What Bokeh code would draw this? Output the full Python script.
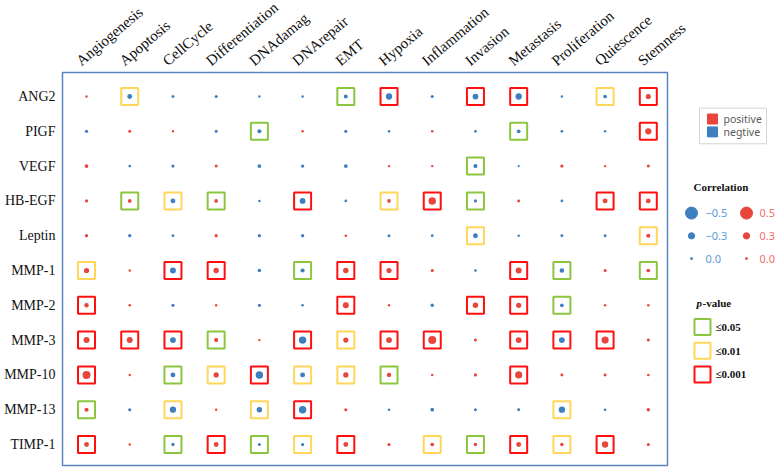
import numpy as np
from bokeh.plotting import figure
from bokeh.models import Range1d, FixedTicker, ColumnDataSource, LabelSet
from bokeh.layouts import row, column
from bokeh.embed import file_html
from bokeh.resources import INLINE
from bokeh.core.properties import value

# ---------------- data ----------------
functions = ["Angiogenesis", "Apoptosis", "CellCycle", "Differentiation", "DNAdamag",
             "DNArepair", "EMT", "Hypoxia", "Inflammation", "Invasion", "Metastasis",
             "Proliferation", "Quiescence", "Stemness"]
genes = ["ANG2", "PIGF", "VEGF", "HB-EGF", "Leptin", "MMP-1", "MMP-2", "MMP-3",
         "MMP-10", "MMP-13", "TIMP-1"]

# correlation (sign = direction, magnitude)
corr_ANG2   = [0.03, -0.20, -0.07, -0.07, -0.03, -0.03, -0.14, -0.30, -0.08, -0.26, -0.30, -0.03, -0.12, 0.22]
corr_PIGF   = [-0.09, 0.07, 0.03, -0.07, -0.14, 0.03, -0.08, -0.05, 0.03, -0.05, -0.12, -0.06, -0.03, 0.30]
corr_VEGF   = [0.12, -0.05, -0.09, 0.07, -0.12, -0.10, -0.12, 0.03, 0.03, -0.15, -0.02, 0.09, 0.03, 0.07]
corr_HBEGF  = [0.08, 0.12, -0.20, 0.12, -0.03, -0.27, -0.05, 0.12, 0.34, -0.08, 0.07, -0.05, 0.20, 0.20]
corr_Leptin = [0.09, -0.09, -0.05, 0.09, -0.09, -0.09, 0.04, -0.07, -0.05, -0.20, -0.03, -0.07, -0.06, 0.15]
corr_MMP1   = [0.22, 0.03, -0.27, 0.24, -0.10, -0.15, 0.24, 0.22, 0.08, -0.05, 0.28, -0.18, 0.08, 0.12]
corr_MMP2   = [0.17, 0.04, -0.08, 0.04, -0.08, -0.04, 0.28, 0.03, -0.10, 0.24, 0.22, -0.12, 0.03, 0.04]
corr_MMP3   = [0.28, 0.28, -0.27, 0.15, 0.03, -0.34, 0.22, 0.27, 0.36, 0.07, 0.27, -0.27, 0.33, 0.07]
corr_MMP10  = [0.36, 0.03, -0.20, 0.22, -0.34, -0.20, 0.23, 0.17, 0.03, 0.08, 0.33, 0.07, 0.07, 0.04]
corr_MMP13  = [0.15, -0.08, -0.30, 0.03, -0.24, -0.34, 0.08, -0.04, -0.12, -0.07, -0.07, -0.30, -0.04, 0.10]
corr_TIMP1  = [0.20, 0.03, -0.09, 0.20, -0.07, -0.09, 0.20, 0.08, 0.12, 0.10, 0.20, 0.10, 0.30, 0.07]

# p-value class: 0 = n.s., 1 = <=0.05, 2 = <=0.01, 3 = <=0.001
p_ANG2   = [0, 2, 0, 0, 0, 0, 1, 3, 0, 3, 3, 0, 2, 3]
p_PIGF   = [0, 0, 0, 0, 1, 0, 0, 0, 0, 0, 1, 0, 0, 3]
p_VEGF   = [0, 0, 0, 0, 0, 0, 0, 0, 0, 1, 0, 0, 0, 0]
p_HBEGF  = [0, 1, 2, 1, 0, 3, 0, 2, 3, 1, 0, 0, 3, 3]
p_Leptin = [0, 0, 0, 0, 0, 0, 0, 0, 0, 2, 0, 0, 0, 2]
p_MMP1   = [2, 0, 3, 3, 0, 1, 3, 3, 0, 0, 3, 1, 0, 1]
p_MMP2   = [3, 0, 0, 0, 0, 0, 3, 0, 0, 3, 3, 1, 0, 0]
p_MMP3   = [3, 3, 3, 1, 0, 3, 2, 3, 3, 0, 3, 3, 3, 0]
p_MMP10  = [3, 0, 1, 2, 3, 2, 2, 1, 0, 0, 3, 0, 0, 0]
p_MMP13  = [1, 0, 2, 0, 2, 3, 0, 0, 0, 0, 0, 2, 0, 0]
p_TIMP1  = [3, 0, 1, 3, 1, 2, 3, 0, 2, 1, 3, 2, 3, 0]

corr_rows = [corr_ANG2, corr_PIGF, corr_VEGF, corr_HBEGF, corr_Leptin, corr_MMP1,
             corr_MMP2, corr_MMP3, corr_MMP10, corr_MMP13, corr_TIMP1]
p_rows = [p_ANG2, p_PIGF, p_VEGF, p_HBEGF, p_Leptin, p_MMP1, p_MMP2, p_MMP3,
          p_MMP10, p_MMP13, p_TIMP1]

sign_labels = ["positive", "negtive"]
legend_corr_neg = [-0.5, -0.3, 0.0]
legend_corr_pos = [0.5, 0.3, 0.0]
p_labels = ["\u22640.05", "\u22640.01", "\u22640.001"]

# ---------------- styles ----------------
POS = "#e8453c"
NEG = "#3e7fc0"
POS_TXT = "#f07068"
NEG_TXT = "#5d9bd6"
BOX = {1: "#8cc63e", 2: "#ffd65a", 3: "#ff1010"}
FRAME = "#5b86bd"
SERIF = "Liberation Serif"
SANS = "Noto Sans"

W, H = 777, 467
TOP_H = 70           # strip holding the rotated column labels
MAIN_W = 669         # main plot (frame 62..667)
LEFT = 62
X0, X1 = -0.556, 13.444
PX_PER_UNIT = (667 - LEFT) / (X1 - X0)


def dot_size(r):
    return float(np.interp(abs(r), [0.0, 0.3, 0.5], [2.0, 6.3, 12.0]))


n_rows = len(genes)
xs, ys, sz, col = [], [], [], []
bx, by, bc = [], [], []
for i, g in enumerate(genes):
    for j, f in enumerate(functions):
        r = corr_rows[i][j]
        yv = n_rows - 1 - i
        xs.append(j); ys.append(yv); sz.append(dot_size(r))
        col.append(POS if r >= 0 else NEG)
        pc = p_rows[i][j]
        if pc > 0:
            bx.append(j); by.append(yv); bc.append(BOX[pc])

dots = ColumnDataSource(dict(x=xs, y=ys, size=sz, color=col))
boxes = ColumnDataSource(dict(x=bx, y=by, color=bc))

# ---------------- top strip: column labels ----------------
t = figure(width=W, height=TOP_H,
           x_range=Range1d(X0, X0 + (W - LEFT) / PX_PER_UNIT), y_range=Range1d(0, TOP_H),
           x_axis_location=None, y_axis_location=None, toolbar_location=None,
           output_backend="svg", min_border_left=LEFT, min_border_right=0,
           min_border_top=0, min_border_bottom=0)
t.grid.visible = False
t.outline_line_color = None
col_src = ColumnDataSource(dict(x=list(range(len(functions))),
                                y=[0] * len(functions), text=functions))
t.add_layout(LabelSet(x="x", y="y", text="text", source=col_src, angle=0.7,
                      x_offset=-5, y_offset=4, text_align="left",
                      text_baseline="alphabetic", text_font=value(SERIF),
                      text_font_size="15px", text_color="#111111"))

# ---------------- main figure ----------------
p = figure(width=MAIN_W, height=H - TOP_H,
           x_range=Range1d(X0, X1), y_range=Range1d(-0.603, 10.69),
           x_axis_location=None, y_axis_location="left",
           toolbar_location=None, output_backend="svg",
           min_border_left=LEFT, min_border_right=2, min_border_top=2, min_border_bottom=2)
p.grid.visible = False
p.outline_line_color = FRAME
p.outline_line_width = 1.5
p.background_fill_color = "white"
p.border_fill_color = "white"

p.yaxis.ticker = FixedTicker(ticks=list(range(n_rows)))
p.yaxis.major_label_overrides = {n_rows - 1 - i: g for i, g in enumerate(genes)}
p.yaxis.axis_line_color = None
p.yaxis.major_tick_line_color = None
p.yaxis.minor_tick_line_color = None
p.yaxis.major_tick_out = 0
p.yaxis.major_tick_in = 0
p.yaxis.major_label_standoff = 7
p.yaxis.major_label_text_font = SERIF
p.yaxis.major_label_text_font_size = "14px"
p.yaxis.major_label_text_color = "#111111"

p.scatter("x", "y", source=boxes, marker="square", size=17, fill_color=None,
          line_color="color", line_width=2)
p.scatter("x", "y", source=dots, marker="circle", size="size", fill_color="color",
          line_color=None)

# ---------------- legend figure ----------------
LH = H - TOP_H
q = figure(width=W - MAIN_W, height=LH, x_range=Range1d(0, W - MAIN_W),
           y_range=Range1d(LH, 0),
           x_axis_location=None, y_axis_location=None, toolbar_location=None,
           output_backend="svg", min_border=0)
q.grid.visible = False
q.outline_line_color = None

# sign legend
q.quad(left=[30], right=[97], top=[36], bottom=[72], fill_color=None,
       line_color="#d4d4d4", line_width=1)
sy = [47 + 13 * k for k in range(len(sign_labels))]
q.scatter(x=[43] * 2, y=sy, marker="square", size=10, color=[POS, NEG])
q.text(x=[54] * 2, y=sy, text=sign_labels, text_baseline="middle",
       text_font=value(SANS), text_font_size="10.5px", text_color="#595959")

# correlation legend
q.text(x=[24], y=[116], text=["Correlation"], text_baseline="middle",
       text_font=value(SERIF), text_font_style="bold", text_font_size="11px",
       text_color="#111111")
cy = [142, 165, 188]
q.scatter(x=[22] * 3, y=cy, size=[dot_size(v) for v in legend_corr_neg], color=NEG)
q.scatter(x=[77] * 3, y=cy, size=[dot_size(v) for v in legend_corr_pos], color=POS)
q.text(x=[36] * 3, y=cy,
       text=[("\u2212%.1f" % abs(v)) if v < 0 else "%.1f" % v for v in legend_corr_neg],
       text_baseline="middle", text_font=value(SANS), text_font_size="11px",
       text_color=NEG_TXT)
q.text(x=[90] * 3, y=cy, text=["%.1f" % v for v in legend_corr_pos],
       text_baseline="middle", text_font=value(SANS), text_font_size="11px",
       text_color=POS_TXT)

# p-value legend
q.text(x=[27], y=[233], text=["p"], text_baseline="middle", text_font=value(SERIF),
       text_font_style="bold italic", text_font_size="11px", text_color="#111111")
q.text(x=[33], y=[233], text=["-value"], text_baseline="middle", text_font=value(SERIF),
       text_font_style="bold", text_font_size="11px", text_color="#111111")
py = [257, 281, 305]
q.scatter(x=[33] * 3, y=py, marker="square", size=16, fill_color=None,
          line_color=[BOX[1], BOX[2], BOX[3]], line_width=2)
q.text(x=[46] * 3, y=py, text=p_labels, text_baseline="middle", text_font=value(SERIF),
       text_font_style="bold", text_font_size="11px", text_color="#111111")

layout = column(t, row(p, q))
open("out.html", "w").write(file_html(layout, INLINE))
